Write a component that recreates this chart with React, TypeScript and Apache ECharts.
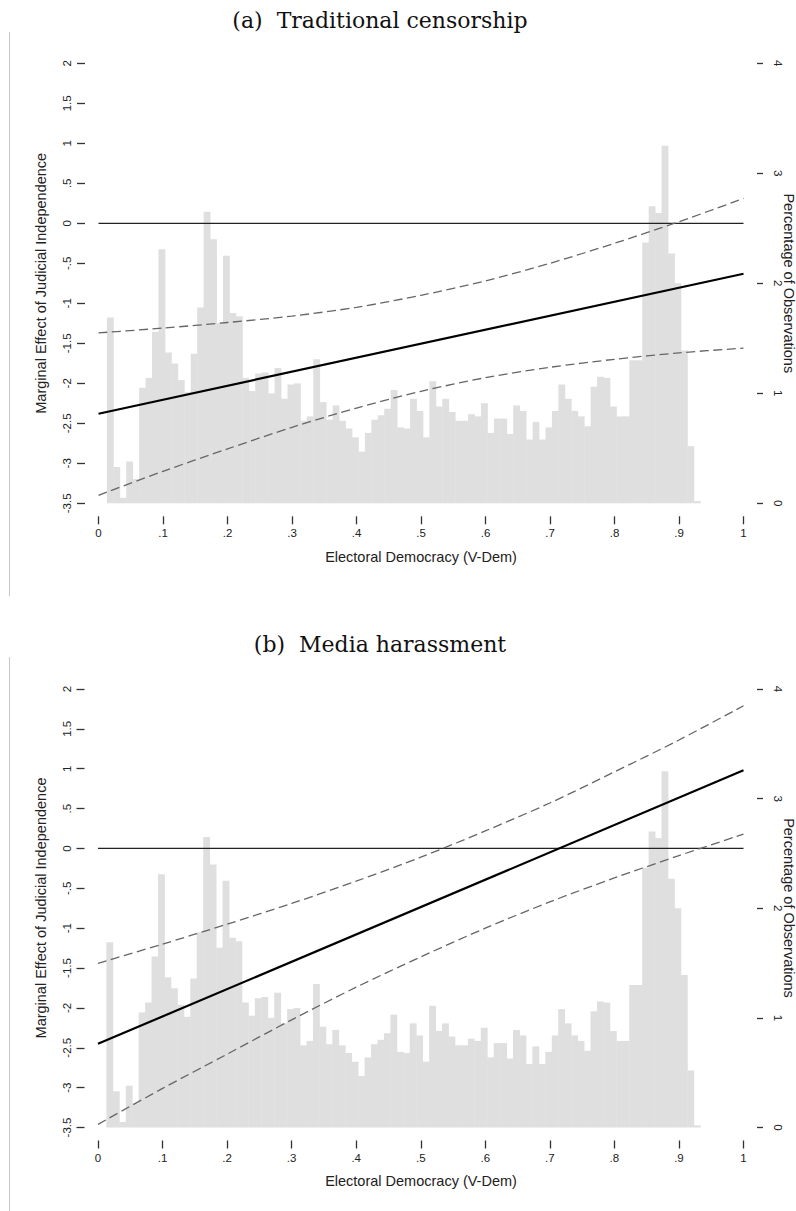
import React, { useEffect, useRef } from "react";
import * as echarts from "echarts";

// Share of observations (%) per electoral-democracy bin (bins 0.01 wide, first starts at 0.013)
const binHeights = [
  1.69, 0.33, 0.05, 0.38, 0.22, 1.05, 1.14, 1.56, 2.31, 1.37,
  1.27, 1.12, 1.01, 1.36, 1.78, 2.65, 2.4, 1.64, 2.25, 1.73,
  1.7, 1.14, 1.02, 1.18, 1.19, 1.0, 1.23, 0.95, 1.08, 1.09,
  0.75, 0.79, 1.31, 0.92, 0.76, 0.89, 0.75, 0.68, 0.6, 0.47,
  0.64, 0.76, 0.8, 0.86, 1.03, 0.69, 0.68, 0.95, 0.84, 0.6,
  1.11, 0.88, 0.95, 0.83, 0.75, 0.75, 0.81, 0.79, 0.91, 0.64,
  0.77, 0.77, 0.63, 0.89, 0.84, 0.58, 0.74, 0.58, 0.69, 0.84,
  1.08, 0.95, 0.84, 0.79, 0.7, 1.06, 1.15, 1.14, 0.88, 0.79,
  0.79, 1.3, 1.3, 2.37, 2.7, 2.64, 3.25, 2.27, 2.0, 1.39,
  0.52, 0.02,
];
const binStart = 0.013;
const binWidth = 0.01;

// Electoral democracy values at which the confidence bands are drawn
const bandX = [0, 0.1, 0.2, 0.3, 0.4, 0.5, 0.6, 0.7, 0.8, 0.9, 1];
const lineEndsX = [0, 1];

// (a) Traditional censorship
const censorshipEffect = [-2.38, -0.63];
const censorshipUpper = [-1.37, -1.31, -1.24, -1.16, -1.05, -0.9, -0.72, -0.5, -0.25, 0.02, 0.31];
const censorshipLower = [-3.4, -3.1, -2.82, -2.55, -2.31, -2.1, -1.93, -1.8, -1.7, -1.62, -1.56];

// (b) Media harassment
const harassmentEffect = [-2.45, 0.98];
const harassmentUpper = [-1.44, -1.2, -0.95, -0.69, -0.41, -0.11, 0.22, 0.57, 0.96, 1.36, 1.79];
const harassmentLower = [-3.46, -3.01, -2.58, -2.15, -1.74, -1.36, -1.0, -0.67, -0.37, -0.09, 0.18];

const panelTitles = ["(a)  Traditional censorship", "(b)  Media harassment"];
const xTitle = "Electoral Democracy (V-Dem)";
const leftTitle = "Marginal Effect of Judicial Independence";
const rightTitle = "Percentage of Observations";

const xTickLabels = ["0", ".1", ".2", ".3", ".4", ".5", ".6", ".7", ".8", ".9", "1"];
const effectTickLabels = ["-3.5", "-3", "-2.5", "-2", "-1.5", "-1", "-.5", "0", ".5", "1", "1.5", "2"];
const pctTickLabels = ["0", "1", "2", "3", "4"];

const SANS = "'Liberation Sans', Arial, sans-serif";
const SERIF = "'DejaVu Serif', serif";

const panels = [
  { effect: censorshipEffect, upper: censorshipUpper, lower: censorshipLower },
  { effect: harassmentEffect, upper: harassmentUpper, lower: harassmentLower },
];

const grids = [
  { left: 98.5, top: 63.3, width: 645, height: 440 },
  { left: 98, top: 689, width: 645.5, height: 438.5 },
];

const tickStyle = { color: "#333", width: 1.3 };
const labelBase = { fontFamily: SANS, fontSize: 11.5, color: "#222" };
// Axes sit detached from the plot region, so they must not snap onto zero
const hiddenLine = { show: false, onZero: false };

function buildOption() {
  const xAxis = grids.map((_, i) => ({
    type: "value",
    gridIndex: i,
    min: 0,
    max: 1,
    interval: 0.1,
    offset: 13,
    axisLine: hiddenLine,
    axisTick: { show: true, length: 8, lineStyle: tickStyle },
    splitLine: { show: false },
    axisLabel: {
      ...labelBase,
      margin: 11,
      formatter: (_v: number, idx: number) => xTickLabels[idx],
    },
  }));

  const yAxis: any[] = [];
  grids.forEach((_, i) => {
    yAxis.push({
      type: "value",
      gridIndex: i,
      position: "left",
      min: -3.5,
      max: 2,
      interval: 0.5,
      offset: 13.5,
      axisLine: hiddenLine,
      axisTick: { show: true, length: 8, lineStyle: tickStyle },
      splitLine: { show: false },
      axisLabel: {
        ...labelBase,
        rotate: 90,
        margin: 12,
        formatter: (_v: number, idx: number) => effectTickLabels[idx],
      },
    });
    yAxis.push({
      type: "value",
      gridIndex: i,
      position: "right",
      min: 0,
      max: 4,
      interval: 1,
      offset: 13.5,
      axisLine: hiddenLine,
      axisTick: { show: true, length: 6, lineStyle: tickStyle },
      splitLine: { show: false },
      axisLabel: {
        ...labelBase,
        rotate: -90,
        margin: 14.5,
        formatter: (_v: number, idx: number) => pctTickLabels[idx],
      },
    });
  });

  const histData = binHeights.map((h, i) => [
    binStart + i * binWidth,
    binStart + (i + 1) * binWidth,
    h,
  ]);

  const series: any[] = [];
  panels.forEach((p, i) => {
    series.push({
      type: "custom",
      xAxisIndex: i,
      yAxisIndex: 2 * i + 1,
      data: histData,
      encode: { x: [0, 1], y: 2 },
      silent: true,
      renderItem: (_params: any, api: any) => {
        const topLeft = api.coord([api.value(0), api.value(2)]);
        const bottomRight = api.coord([api.value(1), 0]);
        return {
          type: "rect",
          shape: {
            x: topLeft[0],
            y: topLeft[1],
            width: bottomRight[0] - topLeft[0] + 0.4,
            height: bottomRight[1] - topLeft[1],
          },
          style: { fill: "#dfdfdf" },
        };
      },
      z: 1,
    });
    series.push({
      type: "line",
      xAxisIndex: i,
      yAxisIndex: 2 * i,
      data: lineEndsX.map((x) => [x, 0]),
      symbol: "none",
      lineStyle: { color: "#222", width: 1.2 },
      z: 2,
    });
    series.push({
      type: "line",
      xAxisIndex: i,
      yAxisIndex: 2 * i,
      data: bandX.map((x, k) => [x, p.upper[k]]),
      symbol: "none",
      smooth: 0.3,
      lineStyle: { color: "#666", width: 1.3, type: [9, 4.5] },
      z: 3,
    });
    series.push({
      type: "line",
      xAxisIndex: i,
      yAxisIndex: 2 * i,
      data: bandX.map((x, k) => [x, p.lower[k]]),
      symbol: "none",
      smooth: 0.3,
      lineStyle: { color: "#666", width: 1.3, type: [9, 4.5] },
      z: 3,
    });
    series.push({
      type: "line",
      xAxisIndex: i,
      yAxisIndex: 2 * i,
      data: lineEndsX.map((x, k) => [x, p.effect[k]]),
      symbol: "none",
      lineStyle: { color: "#000", width: 2.2 },
      z: 4,
    });
  });

  const titleY = [20, 644.5];
  const xTitleY = [557, 1181];
  const sideTitleY = [283.3, 908];
  const borderSpans = [
    [32, 596],
    [657, 1211],
  ];

  const graphic: any[] = [];
  grids.forEach((_, i) => {
    graphic.push({
      type: "text",
      x: 380,
      y: titleY[i],
      style: {
        text: panelTitles[i],
        fontFamily: SERIF,
        fontSize: 22,
        fill: "#111",
        textAlign: "center",
        textVerticalAlign: "middle",
      },
    });
    graphic.push({
      type: "text",
      x: 421,
      y: xTitleY[i],
      style: {
        text: xTitle,
        fontFamily: SANS,
        fontSize: 14.5,
        fill: "#222",
        textAlign: "center",
        textVerticalAlign: "middle",
      },
    });
    graphic.push({
      type: "text",
      x: 41,
      y: sideTitleY[i],
      rotation: Math.PI / 2,
      style: {
        text: leftTitle,
        fontFamily: SANS,
        fontSize: 14.5,
        fill: "#222",
        textAlign: "center",
        textVerticalAlign: "middle",
      },
    });
    graphic.push({
      type: "text",
      x: 788.5,
      y: sideTitleY[i],
      rotation: -Math.PI / 2,
      style: {
        text: rightTitle,
        fontFamily: SANS,
        fontSize: 14.5,
        fill: "#222",
        textAlign: "center",
        textVerticalAlign: "middle",
      },
    });
    graphic.push({
      type: "line",
      shape: { x1: 9.5, y1: borderSpans[i][0], x2: 9.5, y2: borderSpans[i][1] },
      style: { stroke: "#c8c8c8", lineWidth: 1 },
    });
  });

  return {
    animation: false,
    backgroundColor: "#ffffff",
    grid: grids,
    xAxis,
    yAxis,
    series,
    graphic,
  };
}

export default function App() {
  const ref = useRef<HTMLDivElement>(null);

  useEffect(() => {
    document.body.style.margin = "0";
    if (!ref.current) return;
    const chart = echarts.init(ref.current, undefined, { renderer: "svg" });
    chart.setOption(buildOption() as any);
    return () => chart.dispose();
  }, []);

  return (
    <div
      ref={ref}
      style={{ position: "absolute", left: 0, top: 0, width: 796, height: 1211, background: "#fff" }}
    />
  );
}
